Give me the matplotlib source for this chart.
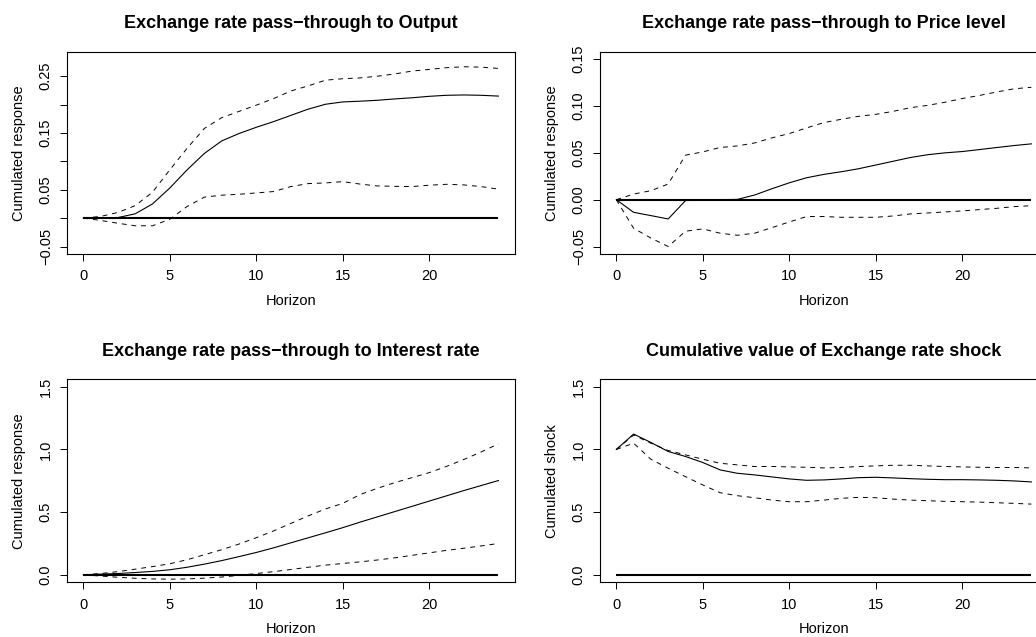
import matplotlib
matplotlib.use("Agg")
import matplotlib.pyplot as plt
import numpy as np

plt.rcParams['font.family'] = ['Liberation Sans', 'DejaVu Sans']

horizon = list(range(25))

output_mid = [0, 0, 0.001, 0.0076, 0.025, 0.053, 0.085, 0.114, 0.136, 0.149, 0.16, 0.17,
              0.181, 0.192, 0.2006, 0.2047, 0.206, 0.2076, 0.21, 0.212, 0.2146, 0.2164,
              0.217, 0.2164, 0.215]
output_up = [0, 0.003, 0.01, 0.022, 0.0456, 0.085, 0.123, 0.158, 0.177, 0.188, 0.199, 0.2105,
             0.224, 0.233, 0.243, 0.2456, 0.247, 0.25, 0.254, 0.259, 0.262, 0.265, 0.2667,
             0.266, 0.2637]
output_lo = [0, -0.004, -0.009, -0.0135, -0.0135, -0.002, 0.0205, 0.037, 0.0404, 0.042,
             0.0444, 0.0468, 0.0556, 0.0608, 0.062, 0.0643, 0.06, 0.0567, 0.056, 0.0556,
             0.058, 0.0596, 0.0585, 0.0556, 0.051]

price_mid = [0, -0.0135, -0.017, -0.0206, -0.001, 0, 0, 0.0003, 0.005, 0.0117, 0.018, 0.0234,
             0.027, 0.0298, 0.033, 0.037, 0.041, 0.045, 0.048, 0.05, 0.0514, 0.0535, 0.0557,
             0.0578, 0.0596]
price_up = [0, 0.006, 0.0096, 0.0167, 0.0475, 0.051, 0.0557, 0.0574, 0.0606, 0.066, 0.0706,
            0.0766, 0.0823, 0.0858, 0.089, 0.0911, 0.0943, 0.0982, 0.1007, 0.104, 0.108,
            0.1113, 0.115, 0.1184, 0.12]
price_lo = [0, -0.0305, -0.041, -0.05, -0.0337, -0.0312, -0.0358, -0.038, -0.0358, -0.0298,
            -0.0238, -0.018, -0.018, -0.0188, -0.0188, -0.0188, -0.0174, -0.0152, -0.0142,
            -0.0131, -0.012, -0.0106, -0.0092, -0.0074, -0.0064]

rate_mid = [0, 0.005, 0.01, 0.018, 0.027, 0.04, 0.06, 0.085, 0.113, 0.145, 0.178, 0.215, 0.255,
            0.295, 0.335, 0.376, 0.42, 0.462, 0.504, 0.546, 0.588, 0.63, 0.672, 0.712, 0.752]
rate_up = [0, 0.01, 0.025, 0.045, 0.065, 0.088, 0.12, 0.16, 0.2, 0.245, 0.296, 0.35, 0.41, 0.47,
           0.525, 0.57, 0.64, 0.69, 0.735, 0.775, 0.815, 0.865, 0.92, 0.98, 1.045]
rate_lo = [0, -0.01, -0.02, -0.028, -0.033, -0.035, -0.033, -0.027, -0.018, -0.005, 0.01,
           0.025, 0.042, 0.06, 0.077, 0.09, 0.103, 0.118, 0.135, 0.155, 0.175, 0.195, 0.212,
           0.23, 0.25]

shock_mid = [1.0, 1.123, 1.056, 0.984, 0.944, 0.896, 0.837, 0.81, 0.797, 0.781, 0.765, 0.754,
             0.757, 0.765, 0.775, 0.778, 0.773, 0.767, 0.762, 0.759, 0.759, 0.757, 0.754,
             0.749, 0.741]
shock_up = [1.0, 1.115, 1.05, 0.992, 0.957, 0.922, 0.89, 0.877, 0.864, 0.864, 0.861, 0.858,
            0.853, 0.856, 0.864, 0.869, 0.874, 0.874, 0.869, 0.864, 0.861, 0.858, 0.856,
            0.856, 0.853]
shock_lo = [1.0, 1.05, 0.922, 0.85, 0.783, 0.717, 0.655, 0.631, 0.615, 0.596, 0.583, 0.583,
            0.596, 0.61, 0.618, 0.615, 0.604, 0.596, 0.591, 0.586, 0.583, 0.58, 0.575, 0.57,
            0.564]

titles = ["Exchange rate pass\u2212through to Output",
          "Exchange rate pass\u2212through to Price level",
          "Exchange rate pass\u2212through to Interest rate",
          "Cumulative value of Exchange rate shock"]
ylabels = ["Cumulated response", "Cumulated response", "Cumulated response", "Cumulated shock"]
yticks = [[-0.05, 0.0, 0.05, 0.10, 0.15, 0.20, 0.25],
          [-0.05, 0.0, 0.05, 0.10, 0.15],
          [0.0, 0.5, 1.0, 1.5],
          [0.0, 0.5, 1.0, 1.5]]
ytick_labels = [["\u22120.05", "", "0.05", "", "0.15", "", "0.25"],
                ["\u22120.05", "0.00", "0.05", "0.10", "0.15"],
                ["0.0", "0.5", "1.0", "1.5"],
                ["0.0", "0.5", "1.0", "1.5"]]
yranges = [(-0.05, 0.28), (-0.05, 0.15), (0.0, 1.5), (0.0, 1.5)]
series = [(output_mid, output_up, output_lo), (price_mid, price_up, price_lo),
          (rate_mid, rate_up, rate_lo), (shock_mid, shock_up, shock_lo)]
xticks = [0, 5, 10, 15, 20]

W, H = 1036, 637
fig = plt.figure(figsize=(W / 100, H / 100), dpi=100)

boxes = [(66.7, 51.7, 515.0, 254.0), (599.7, 51.7, 1048.0, 254.0),
         (66.7, 379.3, 515.0, 582.3), (599.7, 379.3, 1048.0, 582.3)]

def rext(lo, hi):
    r = hi - lo
    return lo - 0.04 * r, hi + 0.04 * r

for i in range(4):
    x0, y0, x1, y1 = boxes[i]
    ax = fig.add_axes([x0 / W, 1 - y1 / H, (x1 - x0) / W, (y1 - y0) / H])
    mid, up, lo = series[i]
    zero = [0] * len(horizon)
    ax.plot(horizon, zero, color='black', lw=1.5, solid_capstyle='butt')
    ax.plot(horizon, mid, color='black', lw=0.8)
    ax.plot(horizon, up, color='black', lw=0.7, linestyle=(0, (5, 5)))
    ax.plot(horizon, lo, color='black', lw=0.7, linestyle=(0, (5, 5)))
    ax.set_xlim(*rext(0, 24))
    ax.set_ylim(*rext(*yranges[i]))
    ax.set_xticks(xticks)
    ax.set_yticks(yticks[i])
    ax.set_yticklabels(ytick_labels[i], rotation=90, va='center')
    for s in ax.spines.values():
        s.set_linewidth(0.8)
        s.set_color('black')
    ax.tick_params(axis='both', direction='out', length=5, width=0.7, labelsize=10.5, colors='black')
    ax.tick_params(axis='x', pad=6)
    ax.tick_params(axis='y', pad=5)
    ax.set_xlabel("Horizon", fontsize=10.5, labelpad=7.5)
    ax.set_ylabel(ylabels[i], fontsize=10.5, labelpad=9)
    ax.set_title(titles[i], fontsize=13, fontweight='bold', pad=17)

fig.savefig("out.png", dpi=100)
